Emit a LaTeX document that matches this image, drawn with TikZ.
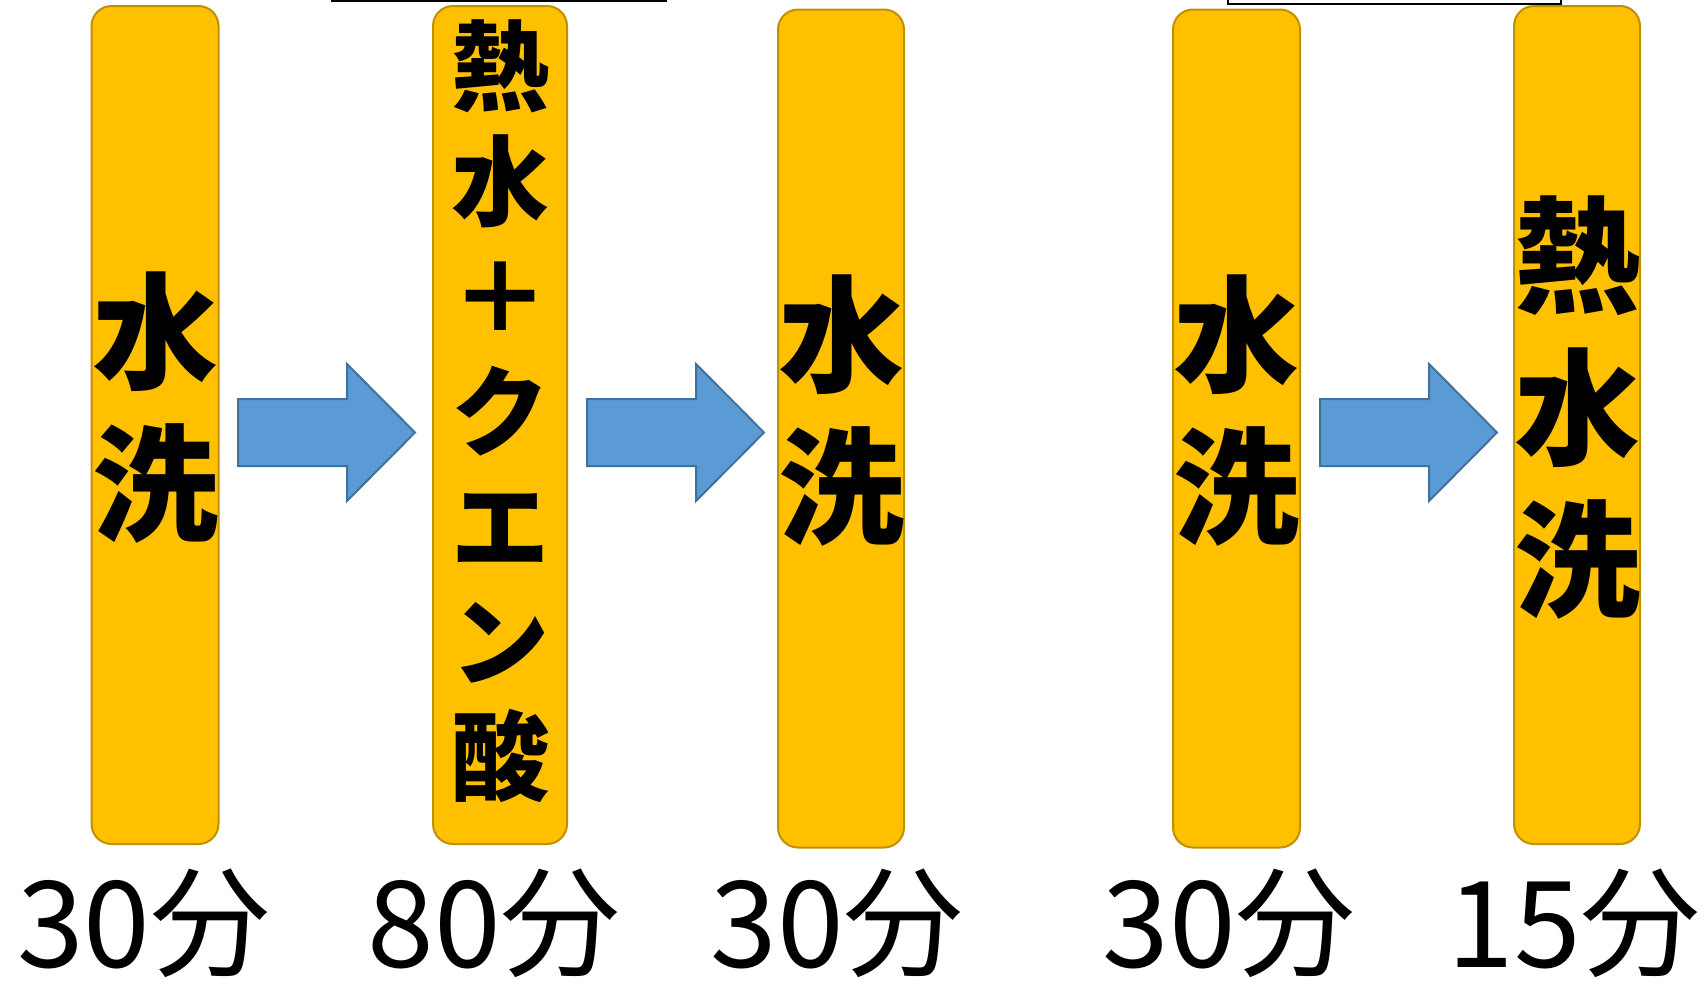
\documentclass[tikz,border=0pt]{standalone}
\usepackage{fontspec}
\newfontfamily\jpfont{Noto Sans CJK JP}
\definecolor{boxgold}{HTML}{FFC000}
\definecolor{boxedge}{HTML}{BF9000}
\definecolor{arrowblue}{HTML}{5B9BD5}
\definecolor{arrowedge}{HTML}{41719C}
\begin{document}
\begin{tikzpicture}[x=1pt, y=-1pt, font=\jpfont,
      bath/.style={draw=boxedge, fill=boxgold, line width=2pt, rounded corners=20pt,
        minimum height=838pt, inner sep=0pt},
      flow/.style={draw=arrowedge, fill=arrowblue, line width=2pt, line join=miter},
      bigtext/.style={align=center, font=\jpfont\bfseries\fontsize{126}{152}\selectfont},
      midtext/.style={align=center, font=\jpfont\bfseries\fontsize{98}{115}\selectfont},
      minutes/.style={anchor=base, font=\jpfont\fontsize{120}{130}\selectfont}]
    \path[use as bounding box] (0,0) rectangle (1708,986);
    \clip (0,0) rectangle (1708,986);
    % frames cut off at the top
    \draw[line width=1.5pt] (332,-60) rectangle (666,1);
    \draw[line width=1.5pt] (1228,-60) rectangle (1561,4);
    % baths
    \node[bath, minimum width=127pt] (b1) at (155,425) {};
    \node[bath, minimum width=134pt] (b2) at (500,425) {};
    \node[bath, minimum width=126pt] (b3) at (841,428.5) {};
    \node[bath, minimum width=127pt] (b4) at (1236.5,428.5) {};
    \node[bath, minimum width=126pt] (b5) at (1577,425) {};
    \node[bigtext] (w1) at (155,408) {水\\洗};
    \node[midtext] (w2) at (500,411) {熱\\水\\＋\\ク\\エ\\ン\\酸};
    \node[bigtext] (w3) at (841,411) {水\\洗};
    \node[bigtext] (w4) at (1236.5,411) {水\\洗};
    \node[bigtext] (w5) at (1577,408) {熱\\水\\洗};
    % arrows
    \foreach \x in {238,587,1320}
      \draw[flow] (\x,399) -- ++(109,0) -- ++(0,-35) -- ++(68,68.5) -- ++(-68,68.5)
        -- ++(0,-35) -- ++(-109,0) -- cycle;
    % times
    \node[minutes] (t1) at (144,967) {30分};
    \node[minutes] (t2) at (494,967) {80分};
    \node[minutes] (t3) at (837,967) {30分};
    \node[minutes] (t4) at (1229,967) {30分};
    \node[minutes] (t5) at (1574,967) {15分};
  \end{tikzpicture}
\end{document}
